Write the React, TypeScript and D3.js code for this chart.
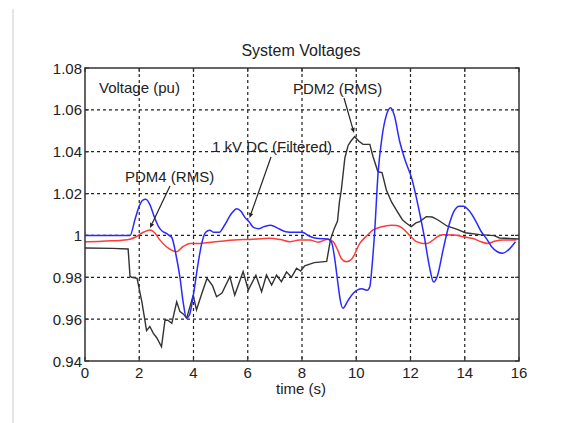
import React from "react";
import * as d3 from "d3";

const xTicks = [0, 2, 4, 6, 8, 10, 12, 14, 16];
const yTicks = [0.94, 0.96, 0.98, 1, 1.02, 1.04, 1.06, 1.08];
const yTickLabels = ["0.94", "0.96", "0.98", "1", "1.02", "1.04", "1.06", "1.08"];

const blueT = [0, 1.66, 1.85, 2.0, 2.12, 2.24, 2.4, 2.55, 2.7, 2.85, 3.0, 3.1, 3.2, 3.35, 3.5, 3.62, 3.74, 3.85, 4.0, 4.15, 4.3, 4.45, 4.6, 4.75, 4.95, 5.15, 5.4, 5.6, 5.75, 5.9, 6.05, 6.2, 6.4, 6.6, 6.85, 7.1, 7.4, 7.7, 8.0, 8.3, 8.6, 8.95, 9.08, 9.51, 9.7, 9.9, 10.05, 10.2, 10.4, 10.5, 10.58, 10.68, 10.8, 10.95, 11.1, 11.27, 11.4, 11.6, 11.8, 12.05, 12.3, 12.5, 12.7, 12.85, 13.0, 13.2, 13.4, 13.6, 13.8, 13.95, 14.15, 14.4, 14.6, 14.8, 15.0, 15.2, 15.4, 15.6, 15.87];
const blueV = [1.0, 1.0, 1.008, 1.014, 1.0168, 1.0173, 1.0145, 1.009, 1.0045, 1.002, 1.001, 1.0, 0.999, 0.991, 0.98, 0.968, 0.9605, 0.962, 0.972, 0.985, 0.996, 1.0015, 1.0025, 1.0015, 1.0015, 1.005, 1.0105, 1.0128, 1.0115, 1.0085, 1.0065, 1.004, 1.0032, 1.0042, 1.0049, 1.0035, 1.0018, 1.0015, 1.0015, 0.9995, 0.9985, 0.9983, 0.997, 0.9652, 0.969, 0.9725, 0.974, 0.9745, 0.9738, 0.9755, 0.985, 1.002, 1.029, 1.047, 1.057, 1.061, 1.0575, 1.045, 1.036, 1.027, 1.013, 1.0, 0.985, 0.9777, 0.981, 0.993, 1.004, 1.0115, 1.014, 1.014, 1.012, 1.007, 1.002, 0.9985, 0.9945, 0.9922, 0.9915, 0.993, 0.997];

const redT = [0, 0.5, 1.0, 1.66, 1.9, 2.15, 2.39, 2.55, 2.75, 3.07, 3.38, 3.6, 3.87, 4.24, 4.48, 5.0, 5.5, 6.08, 6.81, 7.2, 7.55, 7.9, 8.29, 8.6, 8.96, 9.15, 9.3, 9.45, 9.64, 9.85, 10.13, 10.4, 10.62, 10.9, 11.3, 11.5, 11.7, 11.97, 12.22, 12.45, 12.6, 12.8, 13.0, 13.2, 13.6, 13.93, 14.3, 14.6, 14.85, 15.1, 15.4, 15.9];
const redV = [0.997, 0.9971, 0.9974, 0.9982, 0.9995, 1.0015, 1.0026, 1.0015, 0.998, 0.9939, 0.9922, 0.9945, 0.9962, 0.9962, 0.9965, 0.9972, 0.9978, 0.9981, 0.9986, 0.998, 0.997, 0.9978, 0.9978, 0.9968, 0.9982, 0.997, 0.9935, 0.989, 0.9874, 0.989, 0.9962, 1.0, 1.0026, 1.004, 1.0049, 1.0048, 1.0035, 1.0, 0.997, 0.9962, 0.9961, 0.9975, 0.9995, 1.0003, 1.0002, 0.9994, 0.9985, 0.997, 0.9962, 0.9972, 0.9978, 0.9978];

const blackT = [0, 1.0, 1.59, 1.66, 1.72, 1.92, 2.1, 2.27, 2.39, 2.52, 2.65, 2.82, 2.95, 3.05, 3.2, 3.38, 3.5, 3.62, 3.75, 3.99, 4.11, 4.3, 4.5, 4.7, 4.85, 5.05, 5.34, 5.52, 5.83, 6.02, 6.3, 6.51, 6.69, 6.88, 7.06, 7.24, 7.43, 7.61, 7.8, 7.95, 8.1, 8.45, 8.91, 9.05, 9.18, 9.31, 9.38, 9.45, 9.58, 9.7, 9.8, 9.94, 10.1, 10.25, 10.5, 10.62, 10.8, 10.95, 11.11, 11.3, 11.48, 11.7, 11.85, 12.03, 12.2, 12.34, 12.58, 12.8, 13.0, 13.36, 13.7, 14.02, 14.55, 15.08, 15.28, 16];
const blackV = [0.994, 0.9938, 0.9935, 0.9805, 0.98, 0.9795, 0.968, 0.9545, 0.9565, 0.9532, 0.951, 0.9468, 0.9596, 0.9595, 0.958, 0.9683, 0.9636, 0.9625, 0.9605, 0.9715, 0.9644, 0.972, 0.9795, 0.976, 0.9707, 0.9725, 0.9803, 0.9715, 0.9827, 0.9739, 0.981, 0.9731, 0.9811, 0.9763, 0.981, 0.9779, 0.9826, 0.98, 0.9843, 0.983, 0.9855, 0.987, 0.9876, 0.998, 1.003, 1.0069, 1.016, 1.0217, 1.037, 1.043, 1.045, 1.0472, 1.045, 1.0435, 1.0435, 1.0376, 1.0304, 1.03, 1.0217, 1.016, 1.0121, 1.0075, 1.0058, 1.0042, 1.006, 1.0066, 1.009, 1.0088, 1.0075, 1.0044, 1.003, 1.0013, 1.0004, 0.9999, 0.9988, 0.9983];

const FONT = "'Liberation Sans', Arial, Helvetica, sans-serif";

function Arrow({ x1, y1, x2, y2 }: { x1: number; y1: number; x2: number; y2: number }) {
  const ang = Math.atan2(y2 - y1, x2 - x1);
  const L = 5, W = 2.2;
  const bx = x2 - L * Math.cos(ang), by = y2 - L * Math.sin(ang);
  const px = -Math.sin(ang) * W, py = Math.cos(ang) * W;
  return (
    <g>
      <line x1={x1} y1={y1} x2={bx} y2={by} stroke="#222" strokeWidth={1.2} />
      <path d={`M${x2},${y2}L${bx + px},${by + py}L${bx - px},${by - py}Z`} fill="#222" />
    </g>
  );
}

export default function App() {
  const L = 85, R = 519, T = 68, B = 361;
  const x = d3.scaleLinear().domain([0, 16]).range([L, R]);
  const y = d3.scaleLinear().domain([0.94, 1.08]).range([B, T]);

  const mk = (ts: number[], vs: number[], curve: d3.CurveFactory) =>
    d3.line<number>().x((_, i) => x(ts[i])).y((v) => y(v)).curve(curve)(vs) || "";

  const blueP = mk(blueT, blueV, d3.curveMonotoneX);
  const redP = mk(redT, redV, d3.curveMonotoneX);
  const blackP = mk(blackT, blackV, d3.curveLinear);

  return (
    <svg width={566} height={423} style={{ position: "absolute", left: 0, top: 0, background: "#fff" }}
      fontFamily={FONT}>
      <rect x={0} y={0} width={566} height={423} fill="#fff" />
      <line x1={13} y1={9} x2={13} y2={423} stroke="#d4d4d4" strokeWidth={1.2} />
      {xTicks.slice(1, -1).map((t) => (
        <line key={"gx" + t} x1={x(t)} x2={x(t)} y1={T} y2={B} stroke="#222" strokeWidth={1.2} strokeDasharray="3,3" />
      ))}
      {yTicks.slice(1, -1).map((v) => (
        <line key={"gy" + v} x1={L} x2={R} y1={y(v)} y2={y(v)} stroke="#222" strokeWidth={1.2} strokeDasharray="3,3" />
      ))}
      {xTicks.map((t) => (
        <g key={"tx" + t}>
          <line x1={x(t)} x2={x(t)} y1={B} y2={B - 4} stroke="#333" strokeWidth={1.2} />
          <line x1={x(t)} x2={x(t)} y1={T} y2={T + 4} stroke="#333" strokeWidth={1.2} />
          <text x={x(t)} y={378} textAnchor="middle" fontSize={15} fill="#222">{t}</text>
        </g>
      ))}
      {yTicks.map((v, i) => (
        <g key={"ty" + v}>
          <line x1={L} x2={L + 4} y1={y(v)} y2={y(v)} stroke="#333" strokeWidth={1.2} />
          <line x1={R} x2={R - 4} y1={y(v)} y2={y(v)} stroke="#333" strokeWidth={1.2} />
          <text x={82} y={y(v) + 5.5} textAnchor="end" fontSize={15} fill="#222">{yTickLabels[i]}</text>
        </g>
      ))}
      <path d={redP} fill="none" stroke="#ff3b3b" strokeWidth={1.5} />
      <path d={blackP} fill="none" stroke="#333" strokeWidth={1.4} />
      <path d={blueP} fill="none" stroke="#2a2aff" strokeWidth={1.5} />
      <rect x={L} y={T} width={R - L} height={B - T} fill="none" stroke="#333" strokeWidth={1.5} />
      <text x={301} y={56} textAnchor="middle" fontSize={16} fill="#222">System Voltages</text>
      <text x={301} y={394} textAnchor="middle" fontSize={15} fill="#222">time (s)</text>
      <text x={99} y={93} fontSize={15} fill="#222">Voltage (pu)</text>
      <text x={125} y={182} fontSize={15} fill="#222">PDM4 (RMS)</text>
      <text x={212} y={152} fontSize={15} fill="#222">1 kV DC (Filtered)</text>
      <text x={293} y={94} fontSize={15} fill="#222">PDM2 (RMS)</text>
      <Arrow x1={170} y1={186} x2={150} y2={228} />
      <Arrow x1={271} y1={157} x2={249.5} y2={218} />
      <Arrow x1={344} y1={98} x2={354} y2={133} />
    </svg>
  );
}
